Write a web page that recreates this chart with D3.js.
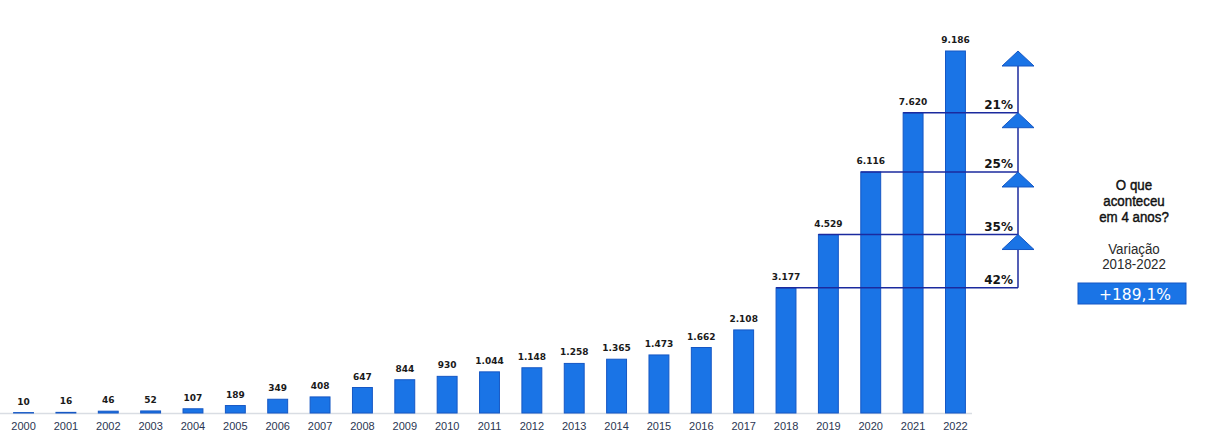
<!DOCTYPE html>
<html><head><meta charset="utf-8">
<script src="https://cdn.jsdelivr.net/npm/d3@7"></script>
<style>body{margin:0;background:#fff}svg{display:block}</style>
</head><body>
<svg id="c" width="1206" height="437"></svg>
<script>
const years = ["2000","2001","2002","2003","2004","2005","2006","2007","2008","2009","2010","2011","2012","2013","2014","2015","2016","2017","2018","2019","2020","2021","2022"];
const values = [10,16,46,52,107,189,349,408,647,844,930,1044,1148,1258,1365,1473,1662,2108,3177,4529,6116,7620,9186];
const stepYears = ["2018","2019","2020","2021","2022"];
const stepLabels = ["42%","35%","25%","21%"];
const sideTitle = ["O que","aconteceu","em 4 anos?"];
const sideSub = ["Variação","2018-2022"];
const totalLabel = "+189,1%";

const svg = d3.select("#c");
const locale = d3.formatLocale({decimal:",", thousands:".", grouping:[3], currency:["",""]});
const fmt = locale.format(",d");

const x = d3.scaleBand().domain(years).range([3, 976]).paddingInner(0.53).paddingOuter(0.25);
const y = d3.scaleLinear().domain([0, 9186]).range([413, 51]);

// baseline
svg.append("line").attr("x1",0).attr("x2",972).attr("y1",413.5).attr("y2",413.5)
  .attr("stroke","#d9dde3").attr("stroke-width",1.5);

// bars
svg.selectAll("rect.bar").data(values).join("rect").attr("class","bar")
  .attr("x",(d,i)=>x(years[i])).attr("width",x.bandwidth())
  .attr("y",d=>y(d)).attr("height",d=>y(0)-y(d))
  .attr("fill","#1a74e6").attr("stroke","#1557c4").attr("stroke-width",1);

// value labels
svg.selectAll("text.val").data(values).join("text").attr("class","val")
  .attr("x",(d,i)=>x(years[i])+x.bandwidth()/2).attr("y",d=>y(d)-8)
  .attr("text-anchor","middle").attr("font-family","DejaVu Sans, sans-serif")
  .attr("font-weight","bold").attr("font-size",9).attr("fill","#1a1a1a")
  .text(d=>fmt(d));

// x axis labels
const xAxis = d3.axisBottom(x).tickSize(0).tickPadding(10);
const gx = svg.append("g").attr("transform","translate(0,420)").call(xAxis);
gx.select(".domain").remove();
gx.selectAll("text").attr("font-family","Liberation Sans, Arial, sans-serif")
  .attr("font-size",11).attr("fill","#2b3652").attr("dy","0");

// step connectors
const vx = 1018;
const stepVals = stepYears.map(s=>values[years.indexOf(s)]);
for (let i=0;i<stepVals.length-1;i++){
  const yr = stepYears[i];
  svg.append("line").attr("x1",x(yr)).attr("x2",vx)
    .attr("y1",y(stepVals[i])).attr("y2",y(stepVals[i]))
    .attr("stroke","#1b2a9e").attr("stroke-width",1.5);
}
svg.append("line").attr("x1",vx).attr("x2",vx)
  .attr("y1",y(stepVals[0])).attr("y2",y(stepVals[stepVals.length-1])+2)
  .attr("stroke","#1b2a9e").attr("stroke-width",1.5);
for (let i=1;i<stepVals.length;i++){
  const ty = y(stepVals[i]);
  svg.append("path")
    .attr("d",`M${vx},${ty} L${vx+16},${ty+15} L${vx-16},${ty+15} Z`)
    .attr("fill","#1a74e6").attr("stroke","#1557c4").attr("stroke-width",1);
}
stepLabels.forEach((t,i)=>{
  svg.append("text").attr("x",1013).attr("y",y(stepVals[i])-4)
    .attr("text-anchor","end").attr("font-family","DejaVu Sans, sans-serif")
    .attr("font-weight","bold").attr("font-size",12).attr("fill","#151515").text(t);
});

// side annotation
const cx = 1134;
const g1 = svg.append("g").attr("transform",`translate(${cx},0) scale(0.86,1)`);
sideTitle.forEach((t,i)=>{
  g1.append("text").attr("x",0).attr("y",190+i*16).attr("text-anchor","middle")
    .attr("font-family","Liberation Sans, Arial, sans-serif")
    .attr("font-size",15.5).attr("fill","#111").attr("stroke","#111").attr("stroke-width",0.45)
    .text(t);
});
const g2 = svg.append("g").attr("transform",`translate(${cx},0) scale(0.86,1)`);
sideSub.forEach((t,i)=>{
  g2.append("text").attr("x",0).attr("y",254+i*15).attr("text-anchor","middle")
    .attr("font-family","Liberation Sans, Arial, sans-serif")
    .attr("font-size",15.5).attr("fill","#2a2a2a").text(t);
});
svg.append("rect").attr("x",1078).attr("y",283).attr("width",108).attr("height",21)
  .attr("fill","#1a74e6").attr("stroke","#1557c4");
svg.append("text").attr("x",cx+1).attr("y",299.5).attr("text-anchor","middle")
  .attr("font-family","DejaVu Sans, sans-serif").attr("font-size",15.5)
  .attr("fill","#fff").text(totalLabel);
</script>
</body></html>
